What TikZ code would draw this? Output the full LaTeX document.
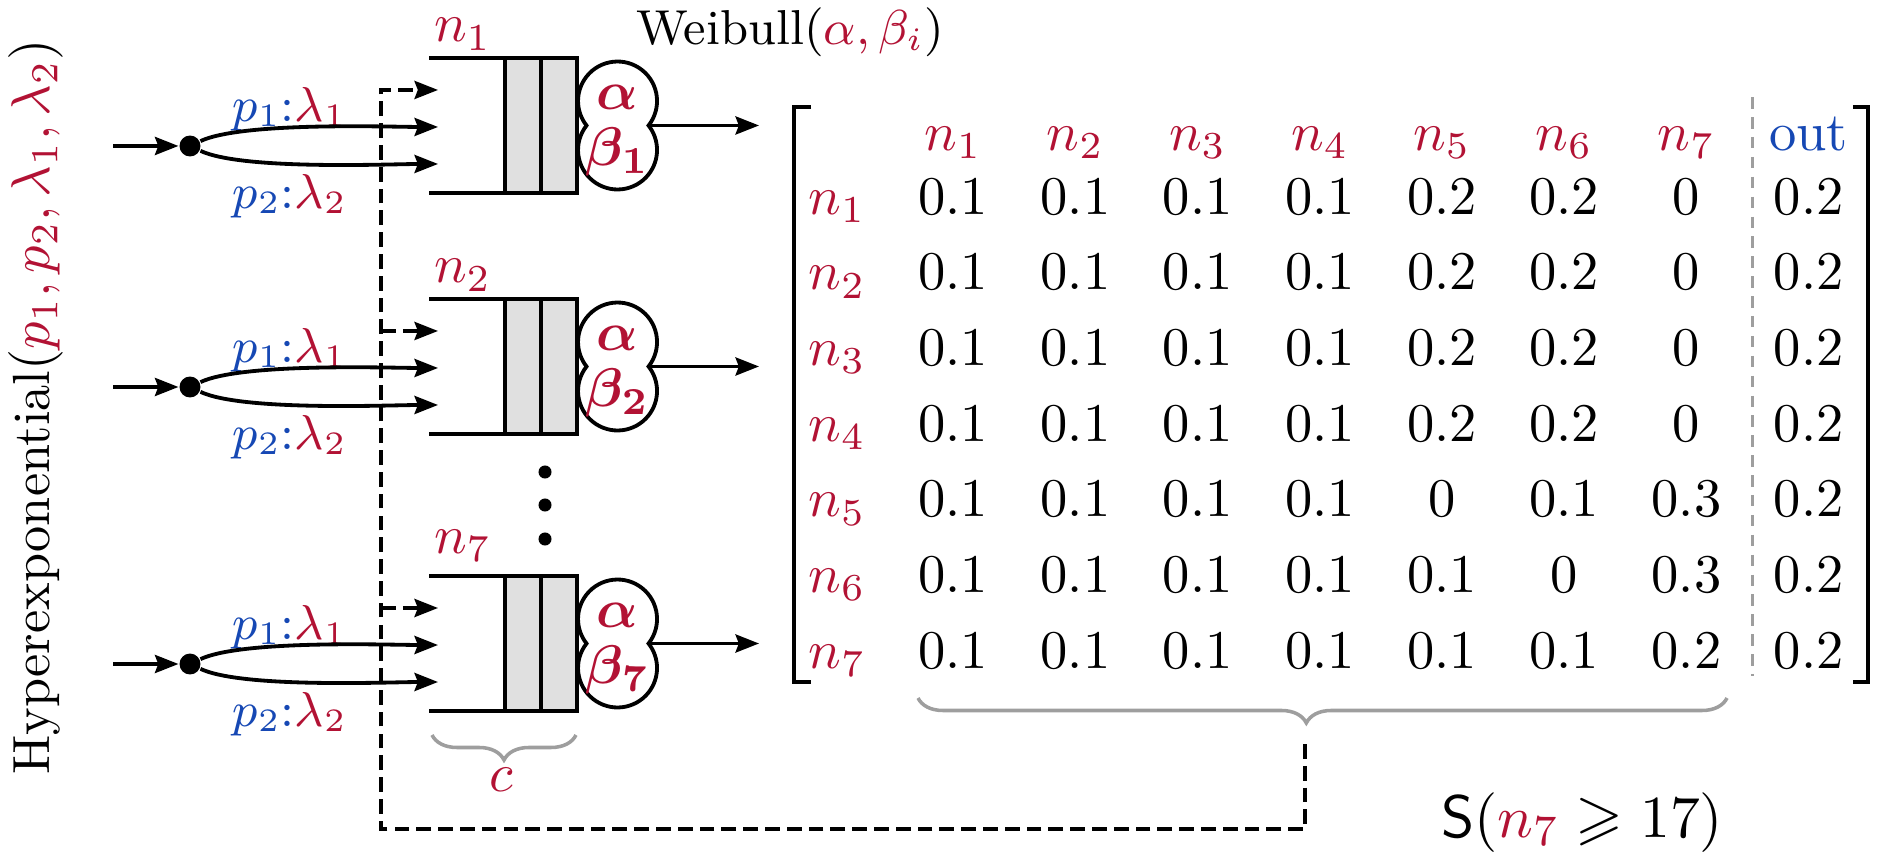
\documentclass[tikz,border=0pt]{standalone}
\usepackage{amsmath,amssymb,bm}
\usetikzlibrary{arrows.meta,matrix,calc,decorations.pathreplacing}
\definecolor{nred}{RGB}{178,18,52}
\definecolor{nblue}{RGB}{22,72,180}
\definecolor{cellgray}{gray}{0.88}
\definecolor{bracegray}{gray}{0.62}

\begin{document}
\begin{tikzpicture}[scale=0.645]
			\tikzstyle{atip}=[-{Stealth[length=4.3pt,width=3.3pt,inset=0.6pt]}]
			\tikzstyle{arr}=[atip,line width=0.7pt]
			\tikzstyle{fb}=[line width=0.7pt,dash pattern=on 2.7pt off 1.3pt]
			\tikzstyle{qline}=[line width=0.9pt]
			\tikzstyle{cell}=[draw,fill=cellgray,line width=0.75pt]
			\tikzstyle{srv}=[minimum width=0.4cm,minimum height=0.826cm,inner sep=0pt,outer sep=0pt]
			\tikzstyle{srvline}=[line width=0.7pt]
			\tikzstyle{srcdot}=[circle,fill=black,inner sep=0pt,minimum size=0.135cm]
			\tikzstyle{vdot}=[circle,fill=black,inner sep=0pt,minimum size=0.084cm]
			\tikzstyle{lbl}=[inner sep=0pt]
			\tikzstyle{brc}=[decorate,decoration={brace,amplitude=0.161cm},draw=bracegray,line width=0.65pt]
			\useasboundingbox (0,0) rectangle (18.77,8.53);
			
			% queue n1
			\begin{scope}[shift={(0,7.95)}]
			\draw[qline] (4.29,0) -- (5.77,0) (4.29,-1.35) -- (5.77,-1.35);
			\draw[cell] (5.05,0) rectangle (5.41,-1.35);
			\draw[cell] (5.41,0) rectangle (5.77,-1.35);
			\node[srv] (s1) at (6.175,-0.675) {};
			\draw[srvline] (s1.east) arc[start angle=-38.3,end angle=218.3,radius=0.395] arc[start angle=141.7,end angle=398.3,radius=0.395] -- cycle;
			\node[lbl,text=nred] (a1) at (6.175,-0.39) {$\bm{\alpha}$};
			\node[lbl,text=nred] (b1) at (6.175,-0.94) {$\bm{\beta_1}$};
			\node[lbl,text=nred,anchor=base west] (n1) at (4.33,0.16) {$n_1$};
			\node[srcdot] (d1) at (1.90,-0.88) {};
			\coordinate (i1) at (1.13,-0.88);
			\coordinate (o1) at (7.59,-0.675);
			\coordinate (f1) at (3.81,-0.32);
			\coordinate (t1-0) at (4.38,-0.32);
			\coordinate (t1-1) at (4.38,-0.69);
			\coordinate (t1-2) at (4.38,-1.06);
			\node[lbl,font=\small] (p1-1) at (2.9,-0.51) {$\color{nblue}p_1{:}\color{nred}\lambda_1$};
			\node[lbl,font=\small] (p1-2) at (2.9,-1.38) {$\color{nblue}p_2{:}\color{nred}\lambda_2$};
			\end{scope}
			
			% queue n2
			\begin{scope}[shift={(0,5.54)}]
			\draw[qline] (4.29,0) -- (5.77,0) (4.29,-1.35) -- (5.77,-1.35);
			\draw[cell] (5.05,0) rectangle (5.41,-1.35);
			\draw[cell] (5.41,0) rectangle (5.77,-1.35);
			\node[srv] (s2) at (6.175,-0.675) {};
			\draw[srvline] (s2.east) arc[start angle=-38.3,end angle=218.3,radius=0.395] arc[start angle=141.7,end angle=398.3,radius=0.395] -- cycle;
			\node[lbl,text=nred] (a2) at (6.175,-0.39) {$\bm{\alpha}$};
			\node[lbl,text=nred] (b2) at (6.175,-0.94) {$\bm{\beta_2}$};
			\node[lbl,text=nred,anchor=base west] (n2) at (4.33,0.16) {$n_2$};
			\node[srcdot] (d2) at (1.90,-0.88) {};
			\coordinate (i2) at (1.13,-0.88);
			\coordinate (o2) at (7.59,-0.675);
			\coordinate (f2) at (3.81,-0.32);
			\coordinate (t2-0) at (4.38,-0.32);
			\coordinate (t2-1) at (4.38,-0.69);
			\coordinate (t2-2) at (4.38,-1.06);
			\node[lbl,font=\small] (p2-1) at (2.9,-0.51) {$\color{nblue}p_1{:}\color{nred}\lambda_1$};
			\node[lbl,font=\small] (p2-2) at (2.9,-1.38) {$\color{nblue}p_2{:}\color{nred}\lambda_2$};
			\end{scope}
			
			% queue n7
			\begin{scope}[shift={(0,2.77)}]
			\draw[qline] (4.29,0) -- (5.77,0) (4.29,-1.35) -- (5.77,-1.35);
			\draw[cell] (5.05,0) rectangle (5.41,-1.35);
			\draw[cell] (5.41,0) rectangle (5.77,-1.35);
			\node[srv] (s7) at (6.175,-0.675) {};
			\draw[srvline] (s7.east) arc[start angle=-38.3,end angle=218.3,radius=0.395] arc[start angle=141.7,end angle=398.3,radius=0.395] -- cycle;
			\node[lbl,text=nred] (a7) at (6.175,-0.39) {$\bm{\alpha}$};
			\node[lbl,text=nred] (b7) at (6.175,-0.94) {$\bm{\beta_7}$};
			\node[lbl,text=nred,anchor=base west] (n7) at (4.33,0.23) {$n_7$};
			\node[srcdot] (d7) at (1.90,-0.88) {};
			\coordinate (i7) at (1.13,-0.88);
			\coordinate (o7) at (7.59,-0.675);
			\coordinate (f7) at (3.81,-0.32);
			\coordinate (t7-0) at (4.38,-0.32);
			\coordinate (t7-1) at (4.38,-0.69);
			\coordinate (t7-2) at (4.38,-1.06);
			\node[lbl,font=\small] (p7-1) at (2.9,-0.51) {$\color{nblue}p_1{:}\color{nred}\lambda_1$};
			\node[lbl,font=\small] (p7-2) at (2.9,-1.38) {$\color{nblue}p_2{:}\color{nred}\lambda_2$};
			\end{scope}
			
			\node[vdot] (v1) at (5.45,3.81) {};
			\node[vdot] (v2) at (5.45,3.48) {};
			\node[vdot] (v3) at (5.45,3.14) {};
			
			\node[lbl,anchor=base west,font=\small] (wb) at (6.35,8.08) {Weibull$(\textcolor{nred}{\alpha,\beta_i})$};
			\node[rotate=90,inner sep=0pt,font=\fontsize{9.6}{11}\selectfont] (hx) at (0.355,4.46) {Hyperexponential$(\textcolor{nred}{p_1,p_2,\lambda_1,\lambda_2})$};
			
			% routing matrix
			\matrix (P) [matrix of math nodes,anchor=north west,inner sep=0pt,outer sep=0pt,
				nodes={inner sep=0pt,anchor=center,minimum width=0.7882cm,minimum height=0.4881cm,text height=0.258cm,text depth=0.0645cm},
				row 1/.style={nodes={text=nred}},column 1/.style={nodes={text=nred}}] at (7.762,7.558) {
				    &[-0.04cm] n_1 & n_2 & n_3 & n_4 & n_5 & n_6 & n_7 & |[text=nblue]|\mathrm{out} \\[-0.0742cm]
				n_1 & 0.1 & 0.1 & 0.1 & 0.1 & 0.2 & 0.2 & 0   & 0.2 \\
				n_2 & 0.1 & 0.1 & 0.1 & 0.1 & 0.2 & 0.2 & 0   & 0.2 \\
				n_3 & 0.1 & 0.1 & 0.1 & 0.1 & 0.2 & 0.2 & 0   & 0.2 \\
				n_4 & 0.1 & 0.1 & 0.1 & 0.1 & 0.2 & 0.2 & 0   & 0.2 \\
				n_5 & 0.1 & 0.1 & 0.1 & 0.1 & 0   & 0.1 & 0.3 & 0.2 \\
				n_6 & 0.1 & 0.1 & 0.1 & 0.1 & 0.1 & 0   & 0.3 & 0.2 \\
				n_7 & 0.1 & 0.1 & 0.1 & 0.1 & 0.1 & 0.1 & 0.2 & 0.2 \\
			};
			\draw[line width=0.85pt] ($(P.north west)+(0.348,-0.1)$) -| ($(P.south west)+(0.178,0.09)$) -- ($(P.south west)+(0.348,0.09)$);
			\draw[line width=0.85pt] ($(P.north east)+(-0.17,-0.1)$) -| ($(P.south east)+(-0.02,0.09)$) -- ($(P.south east)+(-0.17,0.09)$);
			\draw[bracegray,line width=0.5pt,dash pattern=on 2.1pt off 1.55pt] ($(P-1-9.north west)+(0.05,0)$) -- ($(P-8-9.south west)+(0.05,0.15)$);
			
			\draw[brc,decoration={aspect=0.52}] (17.27,1.55) -- (9.18,1.55);
			\draw[brc] (5.76,1.18) -- (4.32,1.18);
			\node[lbl,text=nred] (cl) at (5.01,0.73) {$c$};
			\node[lbl,anchor=base west,font=\fontsize{11.3}{13.5}\selectfont] (sl) at (14.4,0.16) {$\mathsf{S}(\textcolor{nred}{n_7}\geqslant 17)$};
			\coordinate (bt) at (13.05,1.09);
			\coordinate (fc) at (3.81,0.24);
			
			\path[arr]
			(i1) edge (d1)
			(d1) edge[out=25,in=180,looseness=0.5] (t1-1)
			(d1) edge[out=-25,in=180,looseness=0.5] (t1-2)
			(s1.east) edge (o1)
			(i2) edge (d2)
			(d2) edge[out=25,in=180,looseness=0.5] (t2-1)
			(d2) edge[out=-25,in=180,looseness=0.5] (t2-2)
			(s2.east) edge (o2)
			(i7) edge (d7)
			(d7) edge[out=25,in=180,looseness=0.5] (t7-1)
			(d7) edge[out=-25,in=180,looseness=0.5] (t7-2)
			(s7.east) edge (o7)
			;
			\draw[fb,atip] (bt) |- (fc) |- (t1-0);
			\path[fb,atip]
			(f2) edge (t2-0)
			(f7) edge (t7-0)
			;
		\end{tikzpicture}
\end{document}
